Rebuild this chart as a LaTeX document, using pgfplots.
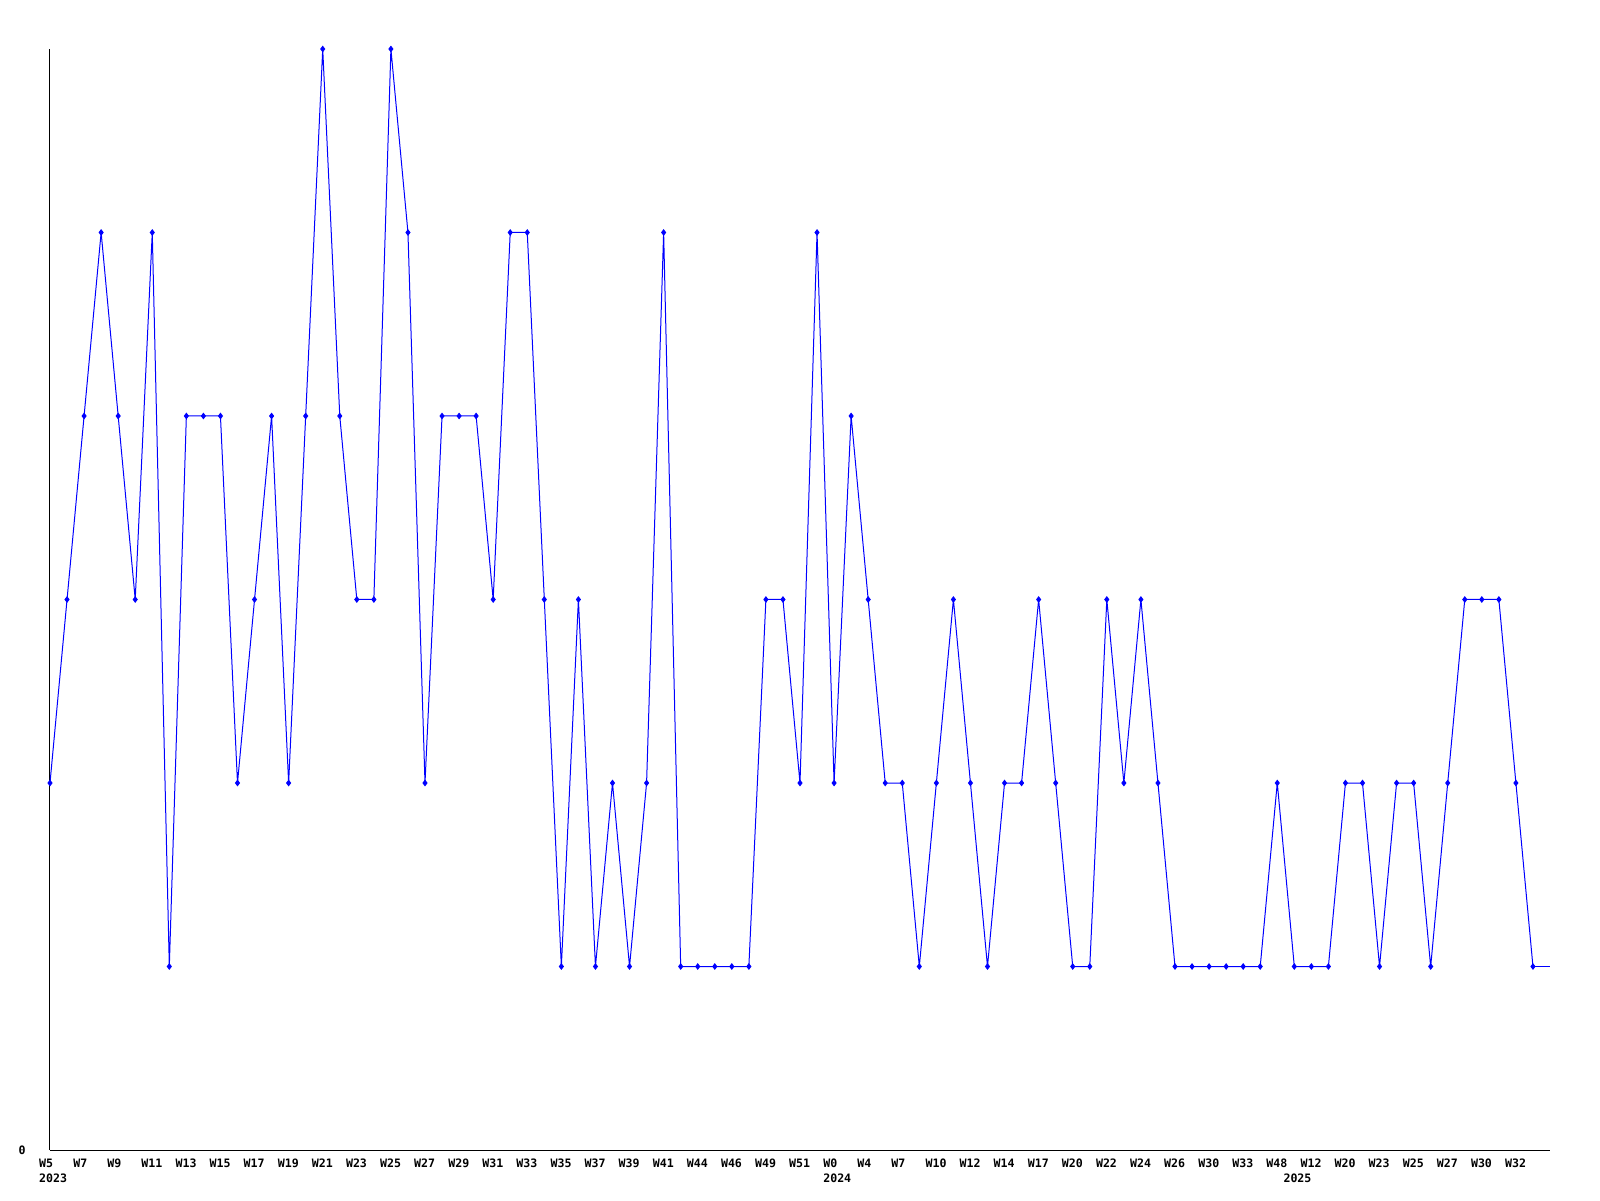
\documentclass[border=0pt]{standalone}
\usepackage{pgfplots}
\pgfplotsset{compat=1.18}
\usepackage{pgfplotstable}
\usepackage{fontspec}
\newfontfamily\lblfont{DejaVu Sans Mono}[BoldFont={DejaVu Sans Mono Bold}]
\pgfplotstableread{
x y
0 2
1 3
2 4
3 5
4 4
5 3
6 5
7 1
8 4
9 4
10 4
11 2
12 3
13 4
14 2
15 4
16 6
17 4
18 3
19 3
20 6
21 5
22 2
23 4
24 4
25 4
26 3
27 5
28 5
29 3
30 1
31 3
32 1
33 2
34 1
35 2
36 5
37 1
38 1
39 1
40 1
41 1
42 3
43 3
44 2
45 5
46 2
47 4
48 3
49 2
50 2
51 1
52 2
53 3
54 2
55 1
56 2
57 2
58 3
59 2
60 1
61 1
62 3
63 2
64 3
65 2
66 1
67 1
68 1
69 1
70 1
71 1
72 2
73 1
74 1
75 1
76 2
77 2
78 1
79 2
80 2
81 1
82 2
83 3
84 3
85 3
86 2
87 1
}\marked
\pgfplotstableread{
x y
87 1
88 1
}\tailline
\begin{document}
\begin{tikzpicture}
\path[use as bounding box] (0,0) rectangle (800pt,600pt);
\begin{axis}[
  at={(25pt,25pt)}, anchor=south west,
  scale only axis, width=750pt, height=550.5pt,
  xmin=0, xmax=88, ymin=0, ymax=6,
  axis lines*=left,
  axis line style={black, line width=0.5pt},
  clip=false,
  major tick length=0pt,
  xtick={0,2,...,86},
  xticklabels={{W5\\2023},W7,W9,W11,W13,W15,W17,W19,W21,W23,W25,W27,W29,W31,W33,W35,W37,W39,W41,W44,W46,W49,W51,{W0\\2024},W4,W7,W10,W12,W14,W17,W20,W22,W24,W26,W30,W33,W48,W12,W20,W23,W25,W27,W30,W32},
  extra x ticks={73},
  extra x tick labels={{\vphantom{W}\\2025}},
  xticklabel style={font=\lblfont\bfseries\fontsize{5.8}{7.5}\selectfont, align=left, anchor=north west, inner sep=0pt, xshift=-5.6pt, yshift=-4.2pt},
  ytick={0},
  yticklabels={0},
  yticklabel style={font=\lblfont\bfseries\fontsize{5.8}{7.5}\selectfont, anchor=east, inner sep=0pt, xshift=-12pt},
]
\addplot[color={rgb,255:red,0;green,0;blue,255}, line width=0.5pt, mark=diamond*, mark size=1.3pt, mark options={solid}] table[x=x,y=y] {\marked};
\addplot[color={rgb,255:red,0;green,0;blue,255}, line width=0.5pt, mark=none] table[x=x,y=y] {\tailline};
\end{axis}
\end{tikzpicture}
\end{document}
